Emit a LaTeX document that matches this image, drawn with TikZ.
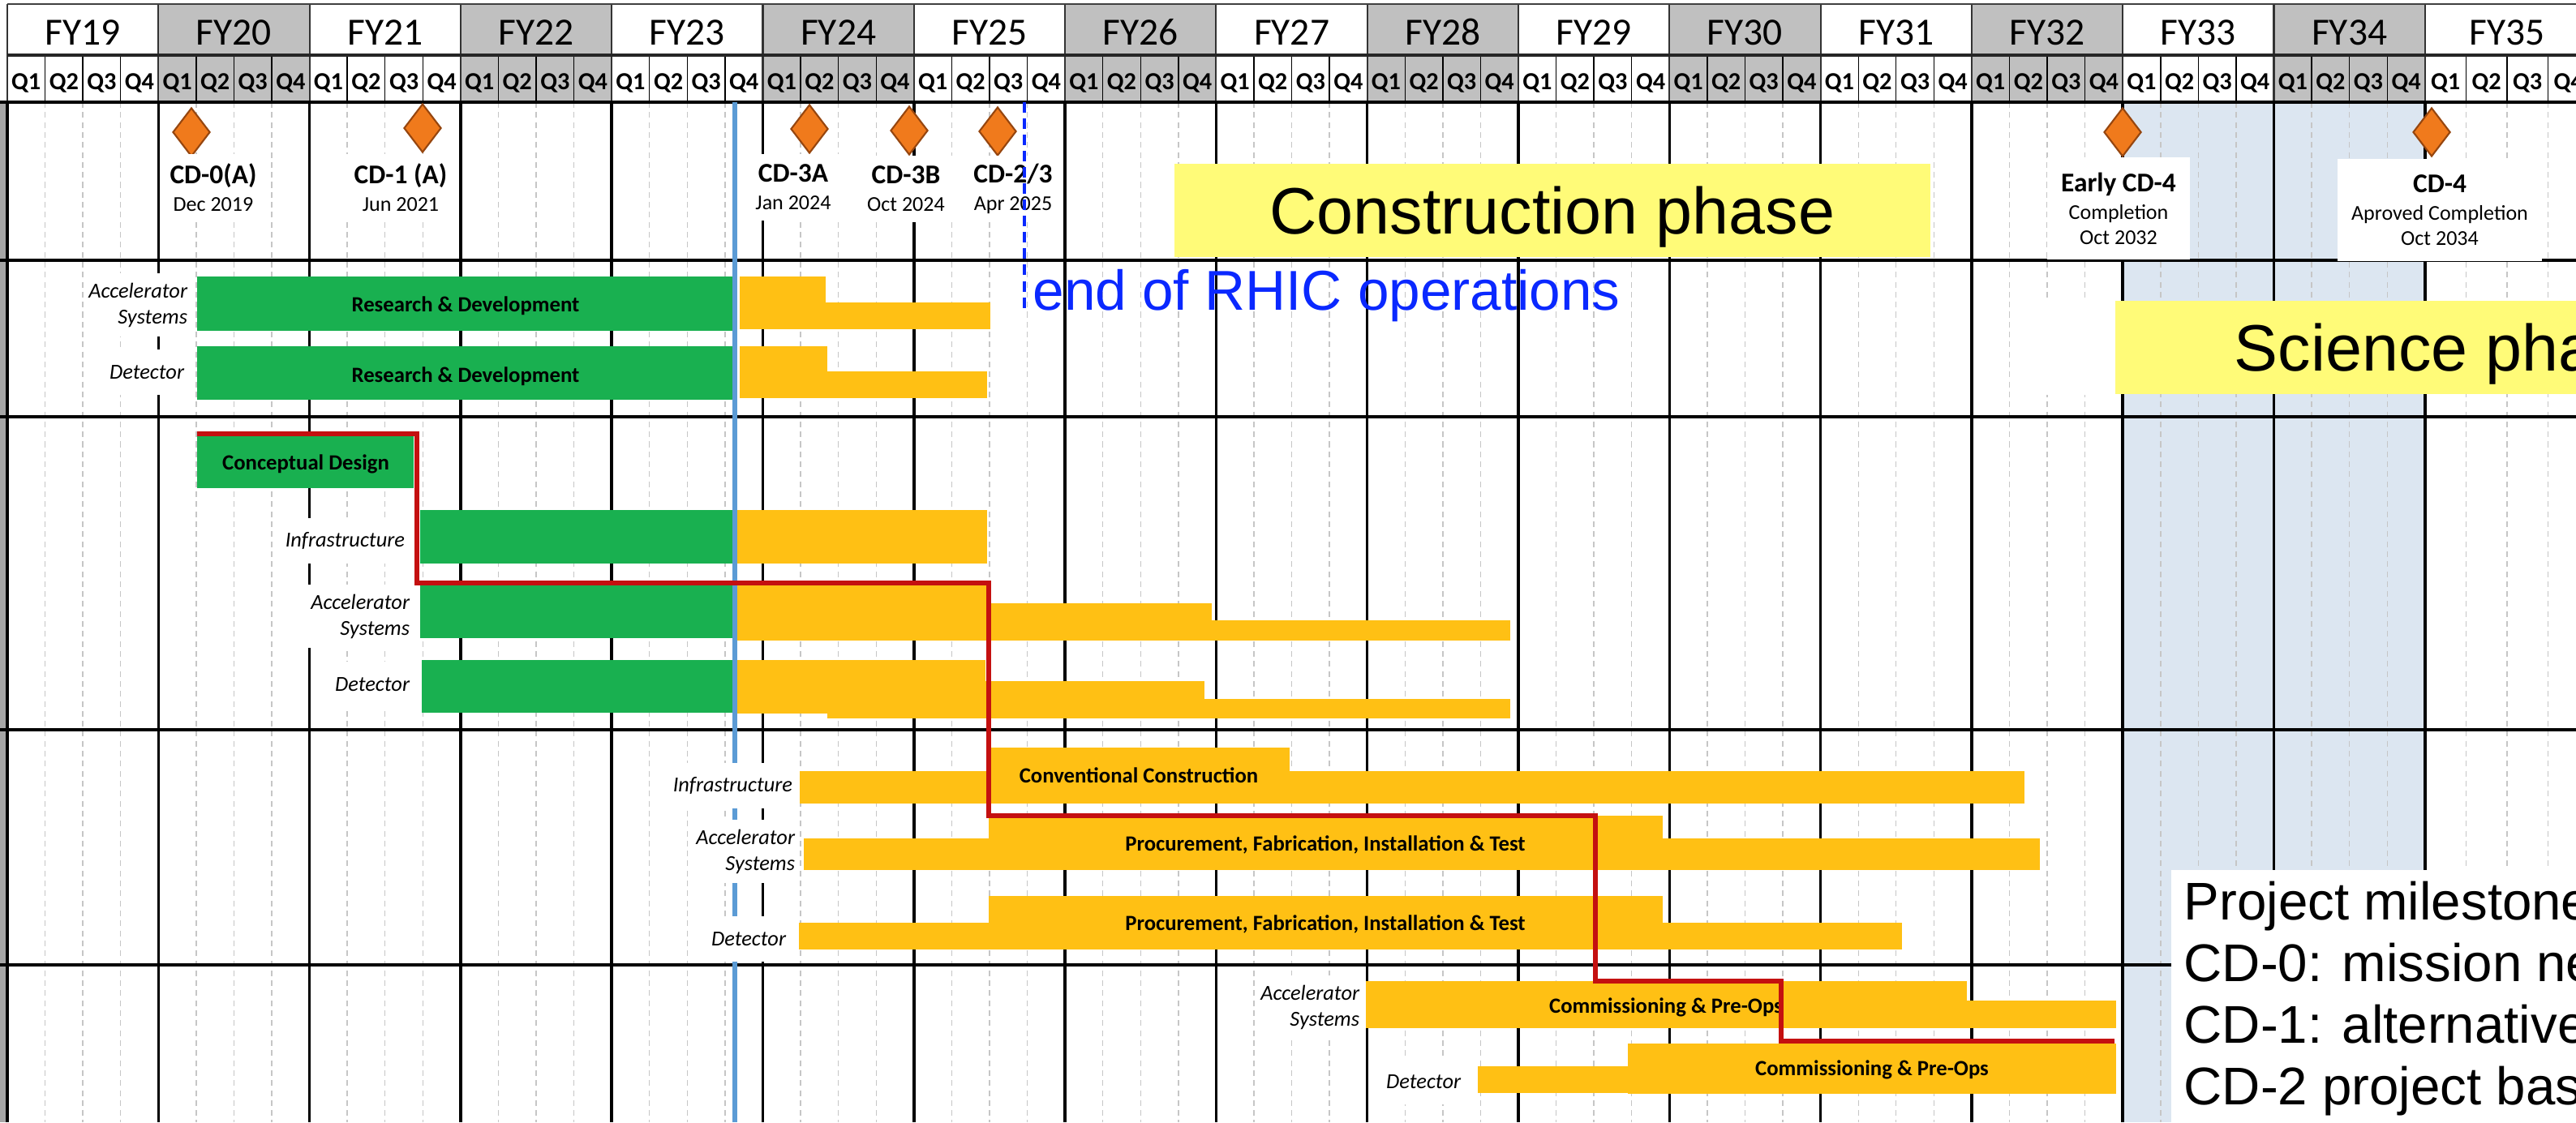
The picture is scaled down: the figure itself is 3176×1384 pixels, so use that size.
\documentclass[tikz,border=0pt]{standalone}
\usepackage{fontspec}
\setmainfont{Carlito}
\newfontfamily\helv{Liberation Sans}
\usepackage{tikz}
\usetikzlibrary{shapes.geometric}
\definecolor{hdrgray}{RGB}{192,192,192}
\definecolor{barg}{RGB}{25,176,80}
\definecolor{baro}{RGB}{255,192,20}
\definecolor{cpred}{RGB}{196,16,16}
\definecolor{nowblue}{RGB}{91,155,213}
\definecolor{rhicblue}{RGB}{10,40,255}
\definecolor{phase}{RGB}{255,251,120}
\definecolor{bandblue}{RGB}{220,230,241}
\definecolor{msorange}{RGB}{240,122,28}
\definecolor{msedge}{RGB}{150,70,15}
\newcommand\msname[1]{{\bfseries\fontsize{9.5}{10}\selectfont #1}}

\begin{document}
\begin{tikzpicture}[x=0.01cm, y=-0.01cm,
  yrlab/.style={anchor=base, inner sep=0pt, font=\fontsize{13.5}{14}\selectfont},
  qlab/.style={anchor=base, inner sep=0pt, font=\bfseries\fontsize{8.6}{9}\selectfont},
  qline/.style={gray!45, line width=0.4pt, dash pattern=on 2pt off 1.5pt},
  yline/.style={black, line width=1pt},
  hline/.style={black, line width=1.2pt},
  bartxt/.style={inner sep=0pt, font=\bfseries\fontsize{7.6}{8}\selectfont},
  rowlab/.style={anchor=east, align=right, fill=white, inner xsep=1.5pt, inner ysep=0pt, minimum height=0.56cm, font=\itshape\fontsize{7.5}{9.1}\selectfont},
  rowlabtwo/.style={rowlab, minimum height=0.78cm},
  ms/.style={diamond, fill=msorange, draw=msedge, line width=0.6pt, minimum width=0.46cm, minimum height=0.6cm, inner sep=0pt},
  mslab/.style={fill=white, align=center, inner xsep=3pt, inner ysep=0pt, minimum height=0.82cm, font=\fontsize{7.4}{8.8}\selectfont},
  mslabthree/.style={mslab, inner xsep=5pt, minimum height=1.25cm},
  phasebox/.style={fill=phase, inner sep=0pt, text height=16.5pt, text depth=0pt, minimum height=1.15cm, font=\helv\fontsize{23}{24}\selectfont}
]
\useasboundingbox (0,0) rectangle (3176,1384);
\clip (0,0) rectangle (3176,1384);
\fill[white] (0,0) rectangle (3176,1384);
\fill[bandblue] (2617.2,126) rectangle (2989.8,1384);
\fill[gray!70] (0,126) rectangle (7,1384);

\foreach \k in {0,...,16} {
  \pgfmathsetmacro\xa{9+186.3*\k}
  \pgfmathsetmacro\yw{ifthenelse(\k<16,186.3,202)}
  \pgfmathsetmacro\xb{\xa+\yw}
  \pgfmathtruncatemacro\yr{19+\k}
  \pgfmathtruncatemacro\odd{mod(\k,2)}
  \ifnum\odd=1 \fill[hdrgray] (\xa,5) rectangle (\xb,126); \fi
  \node[yrlab] (fy\yr) at ({\xa+\yw/2},55) {FY\yr};
  \foreach \q in {1,...,4}
    \node[qlab] (q\yr-\q) at ({\xa+(\q-0.5)*\yw/4},110) {Q\q};
  \foreach \q in {1,2,3} {
    \draw[black, line width=0.4pt] ({\xa+\q*\yw/4},68) -- ({\xa+\q*\yw/4},126);
    \draw[qline] ({\xa+\q*\yw/4},126) -- ({\xa+\q*\yw/4},1384);
  }
  \draw[black!80, line width=0.6pt] (\xa,5) -- (\xa,126);
  \draw[yline] (\xa,126) -- (\xa,1384);
}
\draw[black!75, line width=0.7pt] (9,5) -- (3176,5);
\draw[black!85, line width=0.9pt] (9,68) -- (3176,68);
\foreach \y in {126,321,514,900,1190}
  \draw[hline] (0,\y) -- (3176,\y);

\node[phasebox, minimum width=9.32cm] (cphase) at (1914,259.5) {Construction phase};
\fill[white] (2519,369) rectangle (2607,487);
\node[phasebox, anchor=west, inner xsep=1.47cm] (sphase) at (2607,428.5) {Science phase};

\node[ms] (cd0) at (236,163) {};
\node[ms] (cd1) at (521,158) {};
\node[ms] (cd3a) at (998,159) {};
\node[ms] (cd3b) at (1121,161) {};
\node[ms] (cd23) at (1230,162) {};
\node[ms] (ecd4) at (2617,163) {};
\node[ms] (cd4) at (2998,163) {};
\node[mslab] (cd0lab) at (263,231) {\msname{CD-0(A)}\\[0.9pt]Dec 2019};
\node[mslab] (cd1lab) at (494,231) {\msname{CD-1 (A)}\\[0.9pt]Jun 2021};
\node[mslab] (cd3alab) at (978,231) {\msname{CD-3A}\\[0.9pt]Jan 2024};
\node[mslab] (cd3blab) at (1117,233) {\msname{CD-3B}\\[0.9pt]Oct 2024};
\node[mslab] (cd23lab) at (1249,233) {\msname{CD-2/3}\\[0.9pt]Apr 2025};
\node[mslabthree] (ecd4lab) at (2612,257) {\msname{Early CD-4}\\[0.9pt]Completion\\Oct 2032};
\node[mslabthree] (cd4lab) at (3008,259) {\msname{CD-4}\\[0.9pt]Aproved Completion\\Oct 2034};

\fill[barg] (243,341) rectangle (905,408);
\fill[baro] (912,341) rectangle (1018,406);
\fill[baro] (1018,373) rectangle (1221,406);
\fill[barg] (243,427) rectangle (905,493);
\fill[baro] (912,427) rectangle (1020,491);
\fill[baro] (1020,458) rectangle (1217,491);
\fill[barg] (243,537) rectangle (510,602);
\fill[barg] (518,629) rectangle (905,695);
\fill[baro] (908,629) rectangle (1217,695);
\fill[barg] (518,721) rectangle (904,787);
\fill[baro] (908,721) rectangle (1220,790);
\fill[baro] (1220,744) rectangle (1494,790);
\fill[baro] (1494,765) rectangle (1862,790);
\fill[barg] (520,814) rectangle (905,879);
\fill[baro] (908,814) rectangle (1020,880);
\fill[baro] (1020,814) rectangle (1215,886);
\fill[baro] (1215,840) rectangle (1485,886);
\fill[baro] (1485,862) rectangle (1862,886);
\fill[baro] (986,951) rectangle (2496,991);
\fill[baro] (1219,922) rectangle (1590,991);
\fill[baro] (991,1034) rectangle (2515,1073);
\fill[baro] (1219,1006) rectangle (2050,1073);
\fill[baro] (985,1138) rectangle (2345,1171);
\fill[baro] (1219,1105) rectangle (2050,1171);
\fill[baro] (1684,1210) rectangle (2425,1268);
\fill[baro] (2425,1234) rectangle (2609,1268);
\fill[baro] (1822,1315) rectangle (2007,1348);
\fill[baro] (2007,1287) rectangle (2609,1349);

\draw[nowblue, line width=1.5pt] (906,126) -- (906,1384);

\node[bartxt] (rdacct) at (574,377) {Research \& Development};
\node[bartxt] (rddett) at (574,464) {Research \& Development};
\node[bartxt] (cdest) at (377,572) {Conceptual Design};
\node[bartxt] (convt) at (1404,956) {Conventional Construction};
\node[bartxt] (pfacct) at (1634,1042) {Procurement, Fabrication, Installation \& Test};
\node[bartxt] (pfdett) at (1634,1140) {Procurement, Fabrication, Installation \& Test};
\node[bartxt] (cmacct) at (2054,1242) {Commissioning \& Pre-Ops};
\node[bartxt] (cmdett) at (2308,1319) {Commissioning \& Pre-Ops};

\node[rowlabtwo] (rdacc) at (237,376) {Accelerator\\Systems};
\node[rowlab] (rddet) at (233,459) {Detector};
\node[rowlab] (dsinf) at (505,667) {Infrastructure};
\node[rowlabtwo] (dsacc) at (511,760) {Accelerator\\Systems};
\node[rowlab] (dsdet) at (511,844) {Detector};
\node[rowlab] (csinf) at (983,969) {Infrastructure};
\node[rowlabtwo] (csacc) at (986,1050) {Accelerator\\Systems};
\node[rowlab] (csdet) at (975,1158) {Detector};
\node[rowlabtwo] (cmacc) at (1682,1242) {Accelerator\\Systems};
\node[rowlab] (cmdet) at (1807,1334) {Detector};

\draw[cpred, line width=1.6pt] (243,535) -| (514,719) -| (1219,1006) -| (1967,1210) -| (2196,1284) -- (2607,1284);

\draw[rhicblue, line width=1pt, dash pattern=on 3.7pt off 2pt] (1263,126) -- (1263,384);
\node[anchor=base west, inner sep=0pt, text=rhicblue, font=\helv\fontsize{19.7}{20}\selectfont] (rhic) at (1273,382) {end of RHIC operations};

\node[anchor=north west, fill=white, align=left, inner xsep=0.16cm, inner ysep=0.14cm, font=\helv\fontsize{18.6}{21.6}\selectfont] (cdkey) at (2676,1072) {Project milestones\\CD-0: mission need\\CD-1: alternative\\CD-2 project baseline};
\end{tikzpicture}
\end{document}
